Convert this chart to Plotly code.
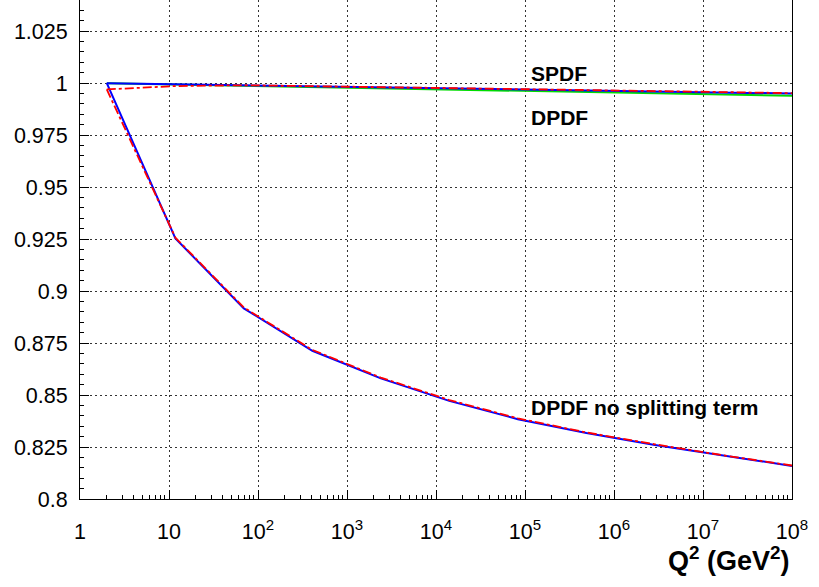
import plotly.graph_objects as go

# Q^2 sampling points (GeV^2)
q2 = [2, 11.8, 69.3, 408, 2400, 14100, 83200, 4.9e5, 2.88e6, 1.7e7, 1e8]

# upper curves (ratios close to 1)
spdf_blue = [1.0, 0.9995, 0.9990, 0.9985, 0.9980, 0.9975, 0.9970, 0.9965, 0.9960, 0.9955, 0.9950]
dpdf_green = [1.0, 0.9994, 0.9988, 0.9982, 0.9976, 0.9970, 0.9964, 0.9957, 0.9951, 0.9945, 0.9939]
spdf_red = [0.997, 0.9986, 0.9990, 0.9986, 0.9981, 0.9977, 0.9972, 0.9967, 0.9962, 0.9957, 0.9952]

# lower curves (DPDF without splitting term)
nosplit_blue = [1.0, 0.9253, 0.8917, 0.8713, 0.8580, 0.8472, 0.8384, 0.8317, 0.8260, 0.8208, 0.8159]
nosplit_red = [0.997, 0.9257, 0.8921, 0.8717, 0.8584, 0.8476, 0.8388, 0.8320, 0.8263, 0.8210, 0.8161]

# axis ticks
x_tickvals = [1, 10, 1e2, 1e3, 1e4, 1e5, 1e6, 1e7, 1e8]
x_ticktext = ["1", "10"] + ["10<sup>%d</sup>" % k for k in range(2, 9)]
x_minor = [m * 10 ** d for d in range(8) for m in range(2, 10)]
y_tickvals = [0.8, 0.825, 0.85, 0.875, 0.9, 0.925, 0.95, 0.975, 1.0, 1.025]
y_ticktext = ["0.8", "0.825", "0.85", "0.875", "0.9", "0.925", "0.95", "0.975", "1", "1.025"]

FONT = "Liberation Sans, Arial, sans-serif"

fig = go.Figure()
fig.add_trace(go.Scatter(x=q2, y=dpdf_green, mode="lines",
                         line=dict(color="#00dd00", width=2)))
fig.add_trace(go.Scatter(x=q2, y=spdf_blue, mode="lines",
                         line=dict(color="#0000ff", width=2)))
fig.add_trace(go.Scatter(x=q2, y=nosplit_blue, mode="lines",
                         line=dict(color="#0000ff", width=2)))
fig.add_trace(go.Scatter(x=q2, y=spdf_red, mode="lines",
                         line=dict(color="#ff0000", width=1.8, dash="dashdot")))
fig.add_trace(go.Scatter(x=q2, y=nosplit_red, mode="lines",
                         line=dict(color="#ff0000", width=1.8, dash="dashdot")))

fig.update_layout(
    width=819, height=587,
    margin=dict(l=80, r=27, t=0, b=88, autoexpand=False),
    paper_bgcolor="white", plot_bgcolor="white",
    showlegend=False,
    font=dict(family=FONT, size=21, color="black"),
)
fig.update_xaxes(
    type="log", range=[0, 8], automargin=False,
    tickmode="array", tickvals=x_tickvals, ticktext=x_ticktext,
    ticks="inside", ticklen=9, tickcolor="black", tickwidth=1,
    showline=True, linecolor="black", linewidth=1, mirror=True,
    showgrid=True, gridcolor="#333", griddash="2px,3px", gridwidth=1,
    minor=dict(tickmode="array", tickvals=x_minor, ticks="inside", ticklen=4,
               tickcolor="black", showgrid=False),
    tickfont=dict(size=21.5), ticklabelstandoff=13, ticklabeloverflow="allow",
    zeroline=False,
)
fig.update_yaxes(
    range=[0.8, 1.04], automargin=False,
    tickmode="array", tickvals=y_tickvals, ticktext=y_ticktext,
    ticks="inside", ticklen=9, tickcolor="black", tickwidth=1,
    showline=True, linecolor="black", linewidth=1, mirror=True,
    showgrid=True, gridcolor="#333", griddash="2px,3px", gridwidth=1,
    minor=dict(dtick=0.005, tick0=0.8, ticks="inside", ticklen=4,
               tickcolor="black", showgrid=False),
    tickfont=dict(size=21.5), ticklabelstandoff=7, ticklabeloverflow="allow",
    zeroline=False,
)

label_font = dict(family=FONT, size=21, color="black")
fig.add_annotation(x=5.045, y=1.0046, xref="x", yref="y", text="<b>SPDF</b>",
                   showarrow=False, xanchor="left", yanchor="middle", font=label_font)
fig.add_annotation(x=5.045, y=0.9837, xref="x", yref="y", text="<b>DPDF</b>",
                   showarrow=False, xanchor="left", yanchor="middle", font=label_font)
fig.add_annotation(x=5.045, y=0.8442, xref="x", yref="y", text="<b>DPDF no splitting term</b>",
                   showarrow=False, xanchor="left", yanchor="middle", font=label_font)
fig.add_annotation(x=1.0, y=-0.121, xref="paper", yref="paper",
                   text="<b>Q<sup>2</sup> (GeV<sup>2</sup>)</b>",
                   showarrow=False, xanchor="right", yanchor="middle",
                   font=dict(family=FONT, size=27, color="black"))

fig.write_html("out.html", config={"displayModeBar": False},
               post_script="document.body.style.margin='0';document.body.style.padding='0';")
